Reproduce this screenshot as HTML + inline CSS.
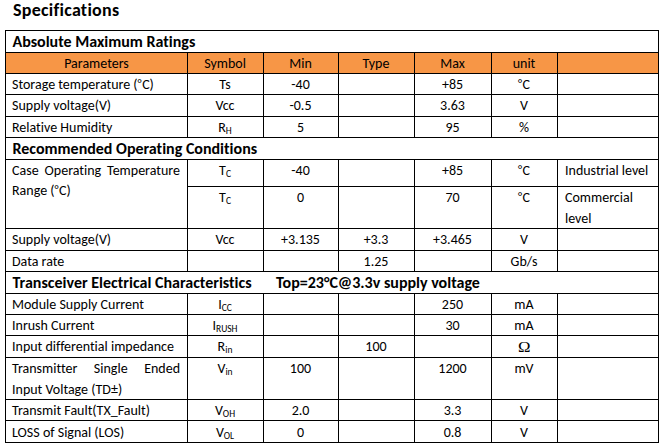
<!DOCTYPE html>
<html><head><meta charset="utf-8"><title>Specifications</title>
<style>
html,body{margin:0;padding:0;background:#fff}
body{width:663px;height:447px;position:relative;overflow:hidden;font-family:"Carlito", "Liberation Sans", sans-serif;font-size:14px;color:#000;font-size-adjust:0.47754}
.l{position:absolute;background:#000}
.t{position:absolute;white-space:nowrap;line-height:20px;height:20px;font-variant-ligatures:none;font-feature-settings:'liga' 0,'clig' 0,'dlig' 0}
.j{text-align:justify;text-align-last:justify;white-space:nowrap}
.d{font-size:12px;vertical-align:1px;line-height:0;margin-right:0.5px}
.o{font-size-adjust:none;font-family:"Liberation Serif",serif;display:inline-block;transform:scaleX(1.2);position:relative;top:1px}
.s{font-size:9.5px;vertical-align:-2px;line-height:0}
</style></head><body>
<div style="position:absolute;left:6px;top:53px;width:652px;height:20px;background:#F79646"></div>
<div class="l" style="left:5px;top:30px;width:654px;height:1px"></div>
<div class="l" style="left:5px;top:52px;width:654px;height:1px"></div>
<div class="l" style="left:5px;top:73px;width:654px;height:1px"></div>
<div class="l" style="left:5px;top:94px;width:654px;height:1px"></div>
<div class="l" style="left:5px;top:116px;width:654px;height:1px"></div>
<div class="l" style="left:5px;top:137px;width:654px;height:1px"></div>
<div class="l" style="left:5px;top:159px;width:654px;height:1px"></div>
<div class="l" style="left:5px;top:228px;width:654px;height:1px"></div>
<div class="l" style="left:5px;top:250px;width:654px;height:1px"></div>
<div class="l" style="left:5px;top:271px;width:654px;height:1px"></div>
<div class="l" style="left:5px;top:293px;width:654px;height:1px"></div>
<div class="l" style="left:5px;top:314px;width:654px;height:1px"></div>
<div class="l" style="left:5px;top:335px;width:654px;height:1px"></div>
<div class="l" style="left:5px;top:357px;width:654px;height:1px"></div>
<div class="l" style="left:5px;top:399px;width:654px;height:1px"></div>
<div class="l" style="left:5px;top:420px;width:654px;height:1px"></div>
<div class="l" style="left:5px;top:442px;width:654px;height:1px"></div>
<div class="l" style="left:187px;top:186px;width:472px;height:1px"></div>
<div class="l" style="left:5px;top:30px;width:1px;height:413px"></div>
<div class="l" style="left:658px;top:30px;width:1px;height:413px"></div>
<div class="l" style="left:187px;top:52px;width:1px;height:86px"></div>
<div class="l" style="left:263px;top:52px;width:1px;height:86px"></div>
<div class="l" style="left:338px;top:52px;width:1px;height:86px"></div>
<div class="l" style="left:414px;top:52px;width:1px;height:86px"></div>
<div class="l" style="left:491px;top:52px;width:1px;height:86px"></div>
<div class="l" style="left:557px;top:52px;width:1px;height:86px"></div>
<div class="l" style="left:187px;top:159px;width:1px;height:113px"></div>
<div class="l" style="left:263px;top:159px;width:1px;height:113px"></div>
<div class="l" style="left:338px;top:159px;width:1px;height:113px"></div>
<div class="l" style="left:414px;top:159px;width:1px;height:113px"></div>
<div class="l" style="left:491px;top:159px;width:1px;height:113px"></div>
<div class="l" style="left:557px;top:159px;width:1px;height:113px"></div>
<div class="l" style="left:187px;top:293px;width:1px;height:150px"></div>
<div class="l" style="left:263px;top:293px;width:1px;height:150px"></div>
<div class="l" style="left:338px;top:293px;width:1px;height:150px"></div>
<div class="l" style="left:414px;top:293px;width:1px;height:150px"></div>
<div class="l" style="left:491px;top:293px;width:1px;height:150px"></div>
<div class="l" style="left:557px;top:293px;width:1px;height:150px"></div>
<div class="t" style="left:13px;top:0px;font-size:18px;font-weight:bold;font-size-adjust:0.48487;letter-spacing:0.27px;">Specifications</div>
<div class="t" style="left:12.5px;top:32px;font-size:16px;font-weight:bold;font-size-adjust:0.48487;">Absolute Maximum Ratings</div>
<div class="t" style="left:187.5px;top:54px;width:75px;text-align:center;">Symbol</div>
<div class="t" style="left:263.5px;top:54px;width:74px;text-align:center;">Min</div>
<div class="t" style="left:338.5px;top:54px;width:75px;text-align:center;">Type</div>
<div class="t" style="left:414.5px;top:54px;width:76px;text-align:center;">Max</div>
<div class="t" style="left:491.5px;top:54px;width:65px;text-align:center;">unit</div>
<div class="t" style="left:6px;top:54px;width:181px;text-align:center;">Parameters</div>
<div class="t" style="left:12px;top:75px;">Storage temperature (<span class="d">°</span>C)</div>
<div class="t" style="left:187.5px;top:75px;width:75px;text-align:center;">Ts</div>
<div class="t" style="left:263.5px;top:75px;width:74px;text-align:center;">-40</div>
<div class="t" style="left:414.5px;top:75px;width:76px;text-align:center;">+85</div>
<div class="t" style="left:491.5px;top:75px;width:65px;text-align:center;"><span class="d">°</span>C</div>
<div class="t" style="left:12px;top:96px;">Supply voltage(V)</div>
<div class="t" style="left:187.5px;top:96px;width:75px;text-align:center;">Vcc</div>
<div class="t" style="left:263.5px;top:96px;width:74px;text-align:center;">-0.5</div>
<div class="t" style="left:414.5px;top:96px;width:76px;text-align:center;">3.63</div>
<div class="t" style="left:491.5px;top:96px;width:65px;text-align:center;">V</div>
<div class="t" style="left:12px;top:118px;">Relative Humidity</div>
<div class="t" style="left:187.5px;top:118px;width:75px;text-align:center;">R<span class="s">H</span></div>
<div class="t" style="left:263.5px;top:118px;width:74px;text-align:center;">5</div>
<div class="t" style="left:414.5px;top:118px;width:76px;text-align:center;">95</div>
<div class="t" style="left:491.5px;top:118px;width:65px;text-align:center;">%</div>
<div class="t" style="left:12.5px;top:139px;font-size:16px;font-weight:bold;font-size-adjust:0.48487;">Recommended Operating Conditions</div>
<div class="t" style="left:187.5px;top:161px;width:75px;text-align:center;">T<span class="s">C</span></div>
<div class="t" style="left:263.5px;top:161px;width:74px;text-align:center;">-40</div>
<div class="t" style="left:414.5px;top:161px;width:76px;text-align:center;">+85</div>
<div class="t" style="left:491.5px;top:161px;width:65px;text-align:center;"><span class="d">°</span>C</div>
<div class="t" style="left:565px;top:161px;">Industrial level</div>
<div class="t j" style="left:12px;top:161px;width:168px">Case Operating Temperature</div>
<div class="t" style="left:12px;top:181px;">Range (<span class="d">°</span>C)</div>
<div class="t" style="left:187.5px;top:188px;width:75px;text-align:center;">T<span class="s">C</span></div>
<div class="t" style="left:263.5px;top:188px;width:74px;text-align:center;">0</div>
<div class="t" style="left:414.5px;top:188px;width:76px;text-align:center;">70</div>
<div class="t" style="left:491.5px;top:188px;width:65px;text-align:center;"><span class="d">°</span>C</div>
<div class="t" style="left:565px;top:188px;">Commercial</div>
<div class="t" style="left:565px;top:209px;">level</div>
<div class="t" style="left:12px;top:230px;">Supply voltage(V)</div>
<div class="t" style="left:187.5px;top:230px;width:75px;text-align:center;">Vcc</div>
<div class="t" style="left:263.5px;top:230px;width:74px;text-align:center;">+3.135</div>
<div class="t" style="left:338.5px;top:230px;width:75px;text-align:center;">+3.3</div>
<div class="t" style="left:414.5px;top:230px;width:76px;text-align:center;">+3.465</div>
<div class="t" style="left:491.5px;top:230px;width:65px;text-align:center;">V</div>
<div class="t" style="left:12px;top:252px;">Data rate</div>
<div class="t" style="left:338.5px;top:252px;width:75px;text-align:center;">1.25</div>
<div class="t" style="left:491.5px;top:252px;width:65px;text-align:center;">Gb/s</div>
<div class="t" style="left:12.5px;top:273px;font-size:16px;font-weight:bold;font-size-adjust:0.48487;">Transceiver Electrical Characteristics</div>
<div class="t" style="left:276px;top:273px;font-size:16px;font-weight:bold;font-size-adjust:0.48487;">Top=23°C@3.3v supply voltage</div>
<div class="t" style="left:12px;top:295px;">Module Supply Current</div>
<div class="t" style="left:187.5px;top:295px;width:75px;text-align:center;">I<span class="s">CC</span></div>
<div class="t" style="left:414.5px;top:295px;width:76px;text-align:center;">250</div>
<div class="t" style="left:491.5px;top:295px;width:65px;text-align:center;">mA</div>
<div class="t" style="left:12px;top:316px;">Inrush Current</div>
<div class="t" style="left:187.5px;top:316px;width:75px;text-align:center;">I<span class="s">RUSH</span></div>
<div class="t" style="left:414.5px;top:316px;width:76px;text-align:center;">30</div>
<div class="t" style="left:491.5px;top:316px;width:65px;text-align:center;">mA</div>
<div class="t" style="left:12px;top:337px;">Input differential impedance</div>
<div class="t" style="left:187.5px;top:337px;width:75px;text-align:center;">R<span class="s">in</span></div>
<div class="t" style="left:338.5px;top:337px;width:75px;text-align:center;">100</div>
<div class="t" style="left:491.5px;top:337px;width:65px;text-align:center;"><span class="o">Ω</span></div>
<div class="t" style="left:187.5px;top:359px;width:75px;text-align:center;">V<span class="s">in</span></div>
<div class="t" style="left:263.5px;top:359px;width:74px;text-align:center;">100</div>
<div class="t" style="left:414.5px;top:359px;width:76px;text-align:center;">1200</div>
<div class="t" style="left:491.5px;top:359px;width:65px;text-align:center;">mV</div>
<div class="t j" style="left:12px;top:359px;width:168px">Transmitter Single Ended</div>
<div class="t" style="left:12px;top:380px;">Input Voltage (TD±)</div>
<div class="t" style="left:12px;top:401px;">Transmit Fault(TX_Fault)</div>
<div class="t" style="left:187.5px;top:401px;width:75px;text-align:center;">V<span class="s">OH</span></div>
<div class="t" style="left:263.5px;top:401px;width:74px;text-align:center;">2.0</div>
<div class="t" style="left:414.5px;top:401px;width:76px;text-align:center;">3.3</div>
<div class="t" style="left:491.5px;top:401px;width:65px;text-align:center;">V</div>
<div class="t" style="left:12px;top:423px;">LOSS of Signal (LOS)</div>
<div class="t" style="left:187.5px;top:423px;width:75px;text-align:center;">V<span class="s">OL</span></div>
<div class="t" style="left:263.5px;top:423px;width:74px;text-align:center;">0</div>
<div class="t" style="left:414.5px;top:423px;width:76px;text-align:center;">0.8</div>
<div class="t" style="left:491.5px;top:423px;width:65px;text-align:center;">V</div>
</body></html>
